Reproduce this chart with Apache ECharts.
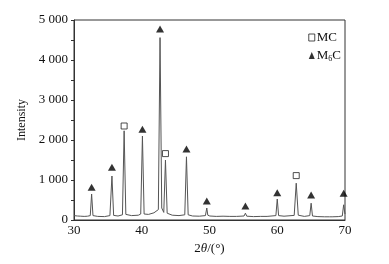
<!DOCTYPE html>
<html>
<head>
<meta charset="utf-8">
<script src="https://cdn.jsdelivr.net/npm/echarts@6/dist/echarts.min.js"></script>
<style>
  html, body { margin: 0; padding: 0; background: #fff; }
  #chart { width: 389px; height: 264px; }
</style>
</head>
<body>
<div id="chart"></div>
<script>
// XRD trace
const twoTheta = [30, 30.5, 31, 31.5, 32, 32.4, 32.6, 32.8, 33.5, 34.5, 35.3, 35.6, 35.85,
  36.5, 37.15, 37.4, 37.65, 38.5, 39.5, 39.85, 40.1, 40.35, 41, 41.8, 42.45, 42.7, 42.95,
  43.25, 43.5, 43.75, 44.5, 45.5, 46.35, 46.6, 46.85, 47.5, 48.5, 49.4, 49.6, 49.75, 49.9,
  50.05, 51, 52, 53, 54, 55.1, 55.3, 55.5, 56.5, 57.5, 58.5, 59.8, 60.0, 60.2, 61, 62.5,
  62.8, 63.1, 64, 64.8, 65.0, 65.2, 66, 67, 67.7, 67.9, 68.1, 69, 69.6, 69.8, 69.95, 70];
const intensity = [110, 100, 95, 90, 95, 110, 650, 110, 90, 85, 110, 1100, 115, 100, 130,
  2230, 140, 110, 120, 150, 2100, 150, 140, 180, 260, 4560, 300, 190, 1500, 170, 120, 110,
  130, 1580, 130, 100, 95, 110, 300, 120, 160, 100, 90, 95, 90, 90, 100, 170, 95, 85, 90,
  90, 110, 525, 110, 95, 115, 920, 120, 90, 110, 420, 100, 85, 80, 80, 130, 80, 85, 100,
  380, 200, 150];

// phase markers
const mcPeaks = [[37.4, 2350], [43.5, 1660], [62.8, 1110]];
const m6cPeaks = [[32.6, 820], [35.6, 1320], [40.1, 2270], [42.7, 4775], [46.6, 1775],
  [49.6, 475], [55.3, 350], [60.0, 680], [65.0, 625], [69.8, 670]];

const yTicks = [0, 1000, 2000, 3000, 4000, 5000];

const font = '"Liberation Serif", "Times New Roman", serif';
const chart = echarts.init(document.getElementById('chart'), null, { renderer: 'canvas' });

chart.setOption({
  animation: false,
  backgroundColor: '#fff',
  textStyle: { fontFamily: font, color: '#111' },
  grid: { left: 74, right: 44, top: 20, bottom: 44, show: true, borderColor: '#333', borderWidth: 1 },
  legend: {
    orient: 'vertical', right: 43, top: 26, itemWidth: 6, itemHeight: 7, itemGap: 5,
    data: [
      { name: 'MC', itemStyle: { color: '#fff', borderColor: '#222', borderWidth: 1 } },
      { name: 'M6C' }
    ],
    textStyle: {
      fontFamily: font, fontSize: 13, color: '#111', padding: [0, 0, 0, -3],
      rich: { s: { fontFamily: font, fontSize: 8, verticalAlign: 'bottom', padding: [6, 0, 0, 0] } }
    },
    formatter: n => n === 'M6C' ? 'M{s|6}C' : n
  },
  xAxis: {
    type: 'value', min: 30, max: 70, interval: 10,
    name: '2{i|θ}/(°)', nameLocation: 'middle', nameGap: 22,
    nameTextStyle: {
      fontFamily: font, fontSize: 13, color: '#111',
      rich: { i: { fontFamily: font, fontSize: 13, fontStyle: 'italic', color: '#111' } }
    },
    axisLine: { onZero: false, lineStyle: { color: '#333' } },
    axisTick: { show: false },
    axisLabel: { fontFamily: font, fontSize: 13, color: '#111', margin: 4 },
    splitLine: { show: false }
  },
  yAxis: {
    type: 'value', min: yTicks[0], max: yTicks[yTicks.length - 1], interval: 1000,
    name: 'Intensity', nameLocation: 'middle', nameGap: 40,
    nameTextStyle: { fontFamily: font, fontSize: 12, color: '#111' },
    axisLine: { show: true, lineStyle: { color: '#333' } },
    axisTick: { show: true, length: 3, lineStyle: { color: '#333' } },
    minorTick: { show: true, splitNumber: 2, length: 3, lineStyle: { color: '#333' } },
    axisLabel: {
      fontFamily: font, fontSize: 13, color: '#111', margin: 6,
      formatter: v => v >= 1000 ? Math.floor(v / 1000) + ' ' + String(v % 1000).padStart(3, '0') : String(v)
    },
    splitLine: { show: false }
  },
  series: [
    {
      name: 'trace', type: 'line', showSymbol: false, symbol: 'none',
      data: twoTheta.map((t, i) => [t, intensity[i]]),
      lineStyle: { color: '#555', width: 1 }
    },
    {
      name: 'MC', type: 'scatter', data: mcPeaks, symbol: 'rect', symbolSize: 6,
      itemStyle: { color: '#fff', borderColor: '#222', borderWidth: 1 }
    },
    {
      name: 'M6C', type: 'scatter', data: m6cPeaks, symbol: 'triangle', symbolSize: [8, 7],
      itemStyle: { color: '#000' }
    }
  ]
});
</script>
</body>
</html>
